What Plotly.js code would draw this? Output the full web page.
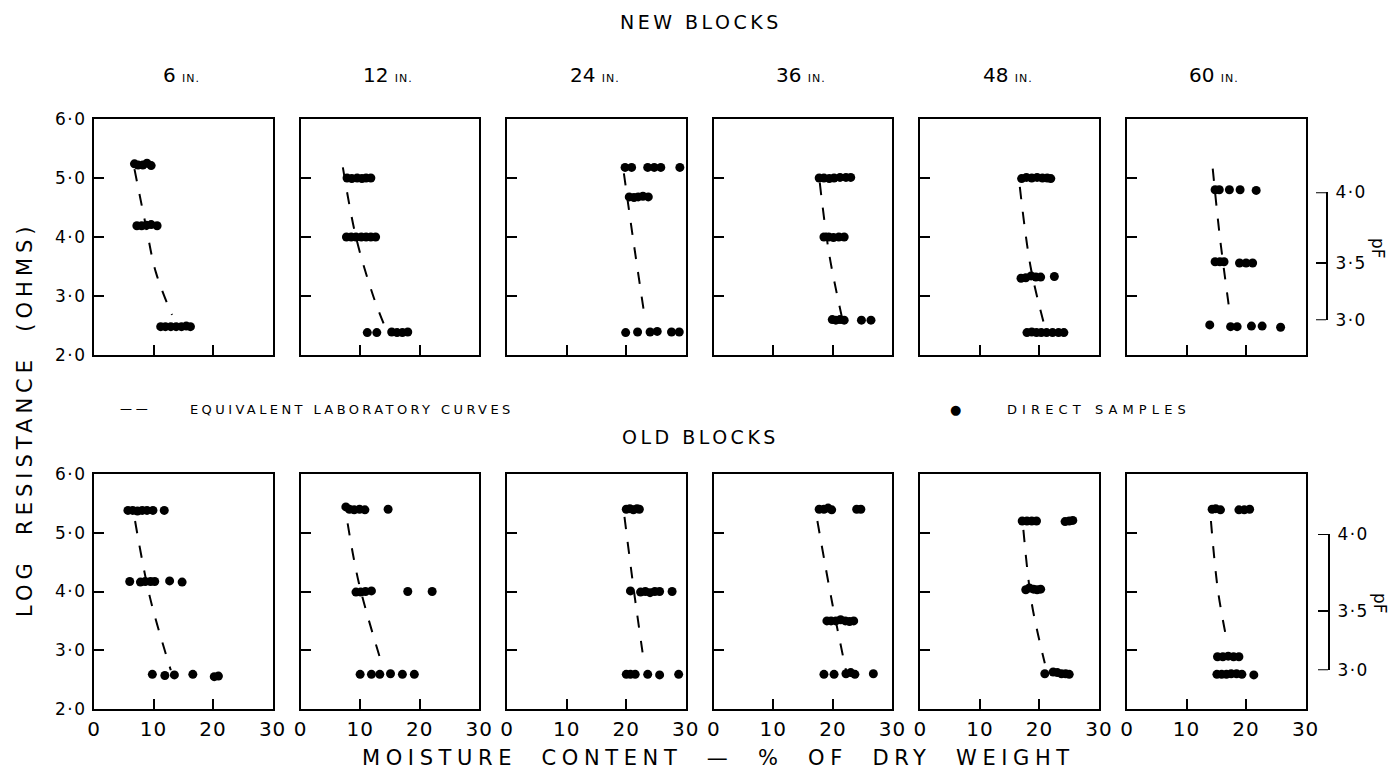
<!DOCTYPE html>
<html>
<head>
<meta charset="utf-8">
<script src="https://cdn.plot.ly/plotly-3.0.1.min.js"></script>
<style>
  html, body { margin: 0; padding: 0; background: #fff; }
  #chart { width: 1397px; height: 775px; }
</style>
</head>
<body>
<div id="chart"></div>
<script>
// ---- Depths and axis labels ----
const depthLabels = ['6', '12', '24', '36', '48', '60'];
const moistureTicks = [0, 10, 20, 30];
const moistureTickText = ['0', '10', '20', '30'];
const logRTicks = [2, 3, 4, 5, 6];
const logRTickText = ['2·0', '3·0', '4·0', '5·0', '6·0'];
const pfTickText = ['3·0', '3·5', '4·0'];
// log resistance equivalent of pF 3.0 / 3.5 / 4.0
const pfAtLogRNew = [2.59, 3.56, 4.76];
const pfAtLogROld = [2.66, 3.67, 4.98];

// ---- NEW BLOCKS: direct samples (moisture %, log resistance) ----
const new06Moisture = [6.8, 7.4, 8.2, 8.9, 9.6, 7.2, 8.0, 8.8, 9.6, 10.6, 11.2, 12.0, 12.9, 13.8, 14.7, 15.5, 16.2];
const new06LogR = [5.24, 5.22, 5.22, 5.25, 5.21, 4.19, 4.19, 4.2, 4.21, 4.19, 2.48, 2.48, 2.48, 2.48, 2.48, 2.49, 2.48];
const new12Moisture = [7.8, 8.6, 9.5, 10.3, 11.0, 11.8, 7.7, 8.5, 9.3, 10.2, 11.0, 11.8, 12.6, 11.2, 12.8, 15.3, 16.2, 17.1, 18.0];
const new12LogR = [5.0, 4.99, 5.0, 4.99, 5.0, 5.0, 4.0, 4.0, 4.0, 4.0, 4.0, 4.0, 4.0, 2.38, 2.38, 2.39, 2.38, 2.38, 2.39];
const new24Moisture = [19.8, 20.9, 23.6, 24.7, 25.8, 29.0, 20.5, 21.3, 22.0, 22.8, 23.7, 19.9, 21.9, 24.0, 25.2, 27.6, 28.9];
const new24LogR = [5.18, 5.18, 5.18, 5.18, 5.18, 5.18, 4.68, 4.67, 4.68, 4.69, 4.68, 2.38, 2.39, 2.39, 2.4, 2.39, 2.39];
const new36Moisture = [17.7, 18.5, 19.4, 20.2, 21.2, 22.2, 23.0, 18.5, 19.3, 20.1, 21.0, 21.9, 19.9, 20.5, 21.2, 21.9, 24.8, 26.4];
const new36LogR = [5.0, 5.0, 4.99, 5.0, 5.01, 5.01, 5.01, 4.0, 4.0, 3.99, 4.0, 4.0, 2.6, 2.59, 2.6, 2.59, 2.59, 2.59];
const new48Moisture = [17.0, 17.8, 18.7, 19.6, 20.5, 21.3, 21.9, 16.9, 17.7, 18.6, 19.4, 20.2, 22.5, 17.9, 18.7, 19.5, 20.3, 21.2, 22.2, 23.2, 24.1];
const new48LogR = [4.99, 5.01, 5.0, 5.01, 5.0, 5.0, 4.99, 3.3, 3.31, 3.34, 3.32, 3.32, 3.33, 2.38, 2.39, 2.38, 2.38, 2.38, 2.38, 2.38, 2.38];
const new60Moisture = [14.8, 15.5, 17.2, 19.0, 21.7, 14.8, 15.6, 16.3, 18.9, 20.0, 21.1, 13.9, 17.4, 18.5, 20.9, 22.7, 25.8];
const new60LogR = [4.8, 4.8, 4.8, 4.8, 4.79, 3.58, 3.58, 3.58, 3.56, 3.56, 3.56, 2.51, 2.48, 2.48, 2.49, 2.49, 2.47];

// ---- NEW BLOCKS: equivalent laboratory curves ----
const new06CurveMoisture = [6.8, 8.7, 10.4, 13.1];
const new06CurveLogR = [5.15, 4.2, 3.4, 2.68];
const new12CurveMoisture = [7.1, 9.3, 12.2, 14.2];
const new12CurveLogR = [5.18, 4.0, 3.0, 2.47];
const new24CurveMoisture = [19.6, 21.1, 23.0];
const new24CurveLogR = [5.08, 4.0, 2.71];
const new36CurveMoisture = [17.8, 19.4, 21.5];
const new36CurveLogR = [4.92, 3.7, 2.65];
const new48CurveMoisture = [16.7, 18.5, 20.7];
const new48CurveLogR = [4.85, 3.5, 2.55];
const new60CurveMoisture = [14.4, 15.6, 17.2];
const new60CurveLogR = [5.16, 4.0, 2.76];

// ---- OLD BLOCKS: direct samples ----
const old06Moisture = [5.7, 6.5, 7.3, 8.1, 8.9, 9.9, 11.8, 6.0, 7.8, 8.6, 9.5, 10.2, 12.7, 14.8, 9.8, 11.9, 13.5, 16.6, 20.2, 20.9];
const old06LogR = [5.38, 5.38, 5.37, 5.38, 5.38, 5.38, 5.38, 4.17, 4.16, 4.17, 4.17, 4.17, 4.18, 4.16, 2.59, 2.57, 2.58, 2.59, 2.55, 2.56];
const old12Moisture = [7.6, 8.2, 9.0, 9.9, 10.8, 14.7, 9.3, 10.1, 10.9, 11.9, 18.0, 22.1, 10.0, 11.9, 13.3, 15.1, 17.1, 19.1];
const old12LogR = [5.44, 5.4, 5.39, 5.4, 5.39, 5.4, 3.99, 3.99, 4.0, 4.01, 4.0, 4.0, 2.59, 2.59, 2.59, 2.6, 2.59, 2.59];
const old24Moisture = [20.0, 20.6, 21.2, 21.8, 22.2, 20.7, 22.4, 23.2, 24.0, 24.8, 25.6, 27.7, 20.0, 20.7, 21.5, 23.6, 25.6, 28.8];
const old24LogR = [5.4, 5.41, 5.39, 5.41, 5.4, 4.01, 3.99, 4.0, 3.98, 4.0, 4.0, 4.0, 2.59, 2.59, 2.59, 2.59, 2.58, 2.59];
const old36Moisture = [17.7, 18.5, 19.2, 19.8, 24.0, 24.7, 19.0, 19.7, 20.5, 21.3, 22.1, 22.8, 23.5, 18.5, 20.2, 22.2, 23.0, 23.7, 26.8];
const old36LogR = [5.4, 5.4, 5.42, 5.39, 5.4, 5.4, 3.5, 3.5, 3.5, 3.52, 3.5, 3.49, 3.5, 2.59, 2.59, 2.6, 2.62, 2.59, 2.6];
const old48Moisture = [17.1, 17.9, 18.7, 19.5, 24.3, 25.0, 25.6, 17.7, 18.3, 19.0, 19.6, 20.2, 20.9, 22.3, 23.0, 23.7, 24.4, 25.0];
const old48LogR = [5.2, 5.2, 5.2, 5.2, 5.19, 5.2, 5.21, 4.03, 4.06, 4.04, 4.03, 4.04, 2.6, 2.63, 2.62, 2.6, 2.6, 2.59];
const old60Moisture = [14.3, 14.9, 15.7, 18.8, 19.7, 20.6, 15.2, 16.1, 17.0, 17.9, 18.8, 15.1, 15.9, 16.7, 17.5, 18.4, 19.3, 21.3];
const old60LogR = [5.4, 5.41, 5.39, 5.39, 5.39, 5.4, 2.89, 2.89, 2.9, 2.89, 2.89, 2.59, 2.59, 2.59, 2.6, 2.6, 2.59, 2.58];

// ---- OLD BLOCKS: equivalent laboratory curves ----
const old06CurveMoisture = [6.9, 9.4, 12.9];
const old06CurveLogR = [5.2, 3.9, 2.66];
const old12CurveMoisture = [7.9, 9.8, 13.6];
const old12CurveLogR = [5.16, 4.14, 2.78];
const old24CurveMoisture = [19.7, 21.3, 23.0];
const old24CurveLogR = [5.27, 4.0, 2.78];
const old36CurveMoisture = [17.4, 19.9, 22.2];
const old36CurveLogR = [5.2, 3.8, 2.66];
const old48CurveMoisture = [17.3, 18.7, 20.9];
const old48CurveLogR = [5.05, 3.8, 2.78];
const old60CurveMoisture = [14.1, 15.3, 16.9];
const old60CurveLogR = [5.2, 4.0, 3.1];

// ---- Panel table ----
const panels = [
  [new06Moisture, new06LogR, new06CurveMoisture, new06CurveLogR],
  [new12Moisture, new12LogR, new12CurveMoisture, new12CurveLogR],
  [new24Moisture, new24LogR, new24CurveMoisture, new24CurveLogR],
  [new36Moisture, new36LogR, new36CurveMoisture, new36CurveLogR],
  [new48Moisture, new48LogR, new48CurveMoisture, new48CurveLogR],
  [new60Moisture, new60LogR, new60CurveMoisture, new60CurveLogR],
  [old06Moisture, old06LogR, old06CurveMoisture, old06CurveLogR],
  [old12Moisture, old12LogR, old12CurveMoisture, old12CurveLogR],
  [old24Moisture, old24LogR, old24CurveMoisture, old24CurveLogR],
  [old36Moisture, old36LogR, old36CurveMoisture, old36CurveLogR],
  [old48Moisture, old48LogR, old48CurveMoisture, old48CurveLogR],
  [old60Moisture, old60LogR, old60CurveMoisture, old60CurveLogR]
];

// ---- Geometry (pixels) ----
const W = 1397, H = 775;
const FONT = '"DejaVu Sans", "Liberation Sans", sans-serif';
const INK = '#000';
const colLeft0 = 94, colStep = 206.6, colWidth = 178.6;
const rowTop = [119, 474], rowBottom = [355, 709];
const px = v => v / W;
const py = v => 1 - v / H;
const spaced = (t, s) => '<span style="letter-spacing:' + s + 'px">' + t + '</span>';

const traces = [];
const layout = {
  width: W, height: H,
  margin: { l: 0, r: 0, t: 0, b: 0 },
  paper_bgcolor: '#fff',
  plot_bgcolor: 'rgba(0,0,0,0)',
  showlegend: false,
  font: { family: FONT, color: INK },
  annotations: []
};

panels.forEach((p, i) => {
  const r = Math.floor(i / 6), c = i % 6;
  const n = i + 1, sfx = n === 1 ? '' : String(n);
  const left = colLeft0 + c * colStep;
  layout['xaxis' + sfx] = {
    domain: [px(left), px(left + colWidth)],
    range: [0, 30], anchor: 'y' + sfx,
    tickvals: moistureTicks, ticktext: moistureTickText.map(t => spaced(t, 1)),
    ticks: 'inside', ticklen: 10, tickwidth: 2, tickcolor: INK,
    showline: true, linewidth: 2, linecolor: INK, mirror: true,
    showgrid: false, zeroline: false, fixedrange: true,
    showticklabels: r === 1, ticklabelstandoff: 1,
    tickfont: { family: FONT, size: 20, color: INK }
  };
  layout['yaxis' + sfx] = {
    domain: [py(rowBottom[r]), py(rowTop[r])],
    range: [2, 6], anchor: 'x' + sfx,
    tickvals: logRTicks, ticktext: logRTickText.map(t => spaced(t, 1.5)),
    ticks: 'inside', ticklen: 10, tickwidth: 2, tickcolor: INK,
    showline: true, linewidth: 2, linecolor: INK, mirror: true,
    showgrid: false, zeroline: false, fixedrange: true,
    showticklabels: c === 0, ticklabelstandoff: 2,
    tickfont: { family: FONT, size: 17, color: INK }
  };
  traces.push({
    type: 'scatter', mode: 'lines', x: p[2], y: p[3],
    xaxis: 'x' + sfx, yaxis: 'y' + sfx, hoverinfo: 'skip',
    line: { color: INK, width: 2, dash: '12px,13px', shape: 'spline', smoothing: 1 }
  });
  traces.push({
    type: 'scatter', mode: 'markers', x: p[0], y: p[1],
    xaxis: 'x' + sfx, yaxis: 'y' + sfx, cliponaxis: false,
    marker: { color: INK, size: 9, line: { width: 0 } }
  });
});

// pF scales beside the last column of each row: the axis line and labels come from
// a right-hand y axis; its short tick marks are drawn as a line trace on that axis
[[pfAtLogRNew, 0, 13, 1326], [pfAtLogROld, 1, 14, 1328]].forEach(([at, r, n, xPos]) => {
  const frac = v => py(rowBottom[r]) + (v - 2) / 4 * (py(rowTop[r]) - py(rowBottom[r]));
  layout['xaxis' + n] = {
    visible: false, showline: false, ticks: '', showgrid: false, zeroline: false,
    domain: [px(xPos - 20), px(xPos)], range: [0, 1], anchor: 'y' + n, fixedrange: true
  };
  layout['yaxis' + n] = {
    domain: [frac(at[0]), frac(at[2])], range: [at[0], at[2]],
    anchor: 'x' + n, side: 'right',
    tickvals: at, ticktext: pfTickText.map(t => spaced(t, 1.5)),
    ticks: '', showline: true, linewidth: 2, linecolor: INK, mirror: false,
    showgrid: false, zeroline: false, fixedrange: true, ticklabelstandoff: 4,
    tickfont: { family: FONT, size: 17, color: INK }
  };
  const tx = [], ty = [];
  at.forEach(v => { tx.push(0.5, 1, null); ty.push(v, v, null); });
  traces.push({
    type: 'scatter', mode: 'lines', x: tx, y: ty, cliponaxis: false,
    xaxis: 'x' + n, yaxis: 'y' + n, hoverinfo: 'skip',
    line: { color: INK, width: 2 }
  });
});

// ---- Text ----
const ann = (text, x, y, size, extra) => Object.assign({
  text, x: px(x), y: py(y), xref: 'paper', yref: 'paper',
  showarrow: false, xanchor: 'center', yanchor: 'middle',
  font: { family: FONT, size, color: INK }
}, extra || {});

layout.annotations.push(ann(spaced('NEW BLOCKS', 3.5), 701, 22, 19));
layout.annotations.push(ann(spaced('OLD BLOCKS', 3.5), 701, 437, 19));
depthLabels.forEach((d, c) => {
  const cx = colLeft0 + c * colStep + colWidth / 2;
  layout.annotations.push(ann(d + ' <span style="font-size:11px;letter-spacing:1px">IN.</span>', cx - 2, 75, 20));
});
layout.annotations.push(ann('— —', 118, 409, 12, { xanchor: 'left' }));
layout.annotations.push(ann(spaced('EQUIVALENT LABORATORY CURVES', 3.4), 188, 409, 13, { xanchor: 'left' }));
layout.annotations.push(ann('●', 955, 409, 13));
layout.annotations.push(ann(spaced('DIRECT SAMPLES', 5.1), 1005, 409, 13, { xanchor: 'left' }));
layout.annotations.push(ann(spaced('LOG\u00a0 RESISTANCE\u00a0 (OHMS)', 5), 25, 419, 21, { textangle: -90 }));
layout.annotations.push(ann(spaced('MOISTURE\u00a0 CONTENT\u00a0 —\u00a0 %\u00a0 OF\u00a0 DRY\u00a0 WEIGHT', 5.6), 719, 758, 21));
layout.annotations.push(ann('pF', 1378, 248, 17, { textangle: 90 }));
layout.annotations.push(ann('pF', 1380, 603, 17, { textangle: 90 }));

Plotly.newPlot('chart', traces, layout, { displayModeBar: false, staticPlot: true });
</script>
</body>
</html>
